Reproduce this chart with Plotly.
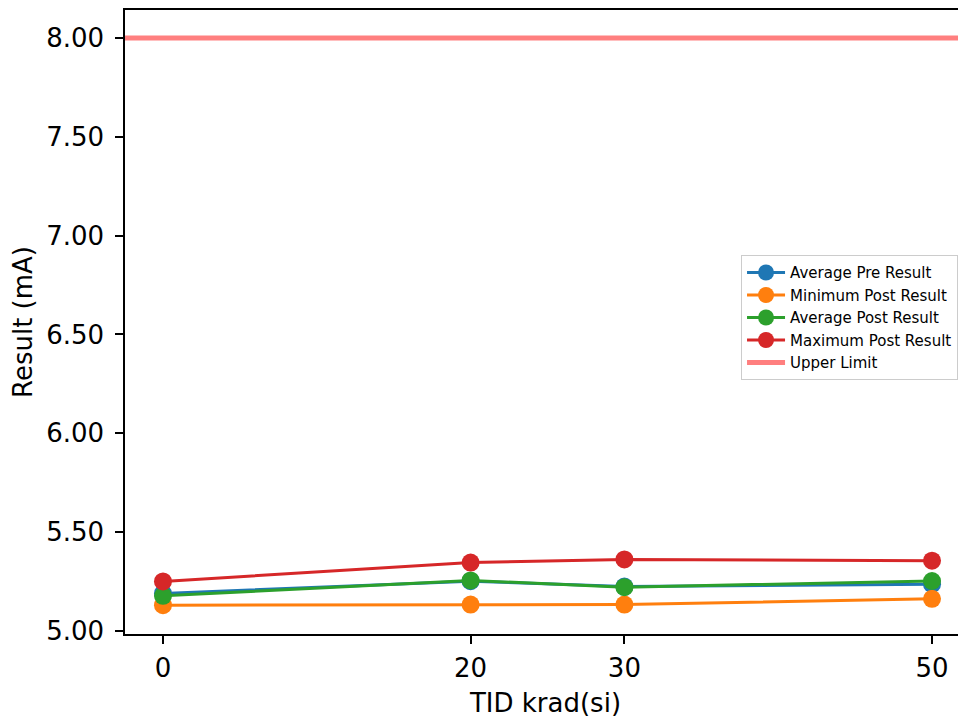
import plotly.graph_objects as go

tid = [0, 20, 30, 50]
avg_pre = [5.19, 5.252, 5.225, 5.237]
min_post = [5.131, 5.134, 5.134, 5.163]
avg_post = [5.178, 5.256, 5.222, 5.253]
max_post = [5.251, 5.346, 5.362, 5.356]
upper_limit = 8.0

x_range = [-2.47, 52.21]
y_range = [4.985, 8.141]
y_ticks = [5.0, 5.5, 6.0, 6.5, 7.0, 7.5, 8.0]

series = [
    ("Average Pre Result", avg_pre, "#1f77b4"),
    ("Minimum Post Result", min_post, "#ff7f0e"),
    ("Average Post Result", avg_post, "#2ca02c"),
    ("Maximum Post Result", max_post, "#d62728"),
]

fig = go.Figure()
for name, vals, color in series:
    fig.add_trace(go.Scatter(
        x=tid, y=vals, name=name, mode="lines+markers",
        line=dict(color=color, width=3),
        marker=dict(color=color, size=18),
    ))
fig.add_trace(go.Scatter(
    x=x_range, y=[upper_limit, upper_limit], name="Upper Limit", mode="lines",
    line=dict(color="rgba(255,0,0,0.5)", width=5),
))

font = "DejaVu Sans, Verdana, sans-serif"
fig.update_layout(
    width=958, height=710,
    margin=dict(l=117, r=0, t=0, b=84),
    plot_bgcolor="white", paper_bgcolor="white",
    font=dict(family=font, size=26, color="black"),
    showlegend=True,
    legend=dict(
        x=0.7325, y=0.607, xanchor="left", yanchor="top",
        font=dict(size=15, family=font),
        bordercolor="#cccccc", borderwidth=1, bgcolor="rgba(255,255,255,0.8)",
        tracegroupgap=0, itemwidth=38,
    ),
    xaxis=dict(
        range=x_range, tickvals=tid, ticktext=[str(t) for t in tid],
        showgrid=False, zeroline=False,
        showline=True, linecolor="black", linewidth=1.5, mirror=True,
        ticks="outside", ticklen=8, tickwidth=1.5, tickcolor="black",
        tickfont=dict(size=26), ticklabelstandoff=2,
        title=dict(text="TID krad(si)", font=dict(size=26), standoff=12),
    ),
    yaxis=dict(
        range=y_range, tickvals=y_ticks, ticktext=[f"{v:.2f}" for v in y_ticks],
        showgrid=False, zeroline=False,
        showline=True, linecolor="black", linewidth=1.5, mirror=False,
        ticks="outside", ticklen=8, tickwidth=1.5, tickcolor="black",
        tickfont=dict(size=26), ticklabelstandoff=6,
        title=dict(text="Result (mA)", font=dict(size=26), standoff=12),
    ),
)

fig.write_html("out.html")
